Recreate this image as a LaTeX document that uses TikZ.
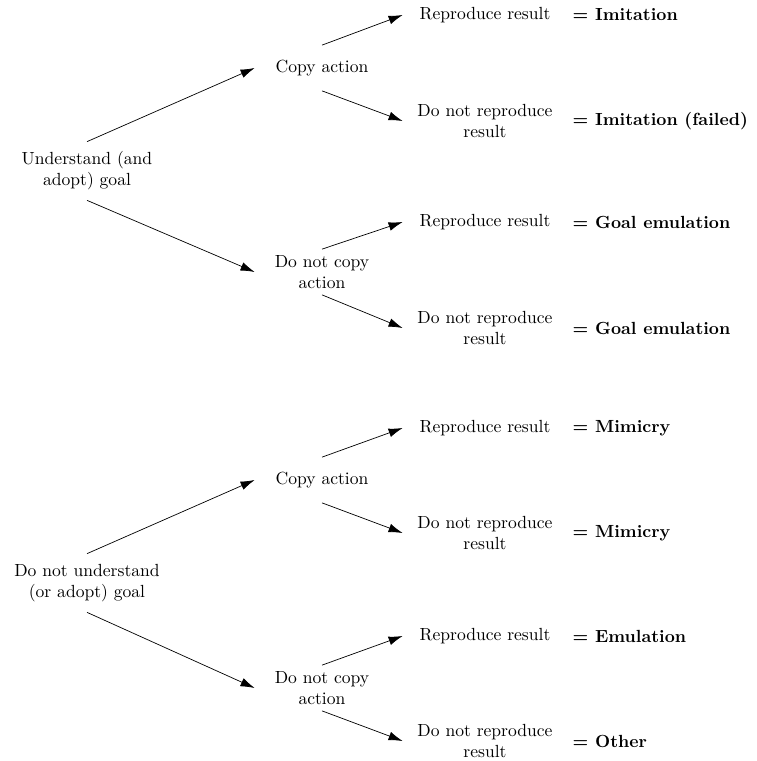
\documentclass[tikz,border=0pt]{standalone}
\usetikzlibrary{positioning,arrows.meta}
\tikzstyle{goalbox}=[inner sep=0pt, text width=3.2cm, align=center, minimum height=1.16cm]
\tikzstyle{actbox}=[inner sep=0pt, text width=2.68cm, align=center, minimum height=0.9cm]
\tikzstyle{resbox}=[inner sep=0pt, text width=3.28cm, align=center]
\tikzstyle{outbox}=[inner sep=0pt, anchor=west, font=\bfseries]
\tikzstyle{branch}=[black, -{Latex[length=8pt,width=5pt]}]

\begin{document}
\begin{tikzpicture}
\useasboundingbox (0,0) rectangle (15.12,-15.22);

% goals
\node [goalbox] (g1) at (1.74,-3.42) {Understand (and\\adopt) goal};
\node [goalbox] (g2) at (1.74,-11.66) {Do not understand\\(or adopt) goal};

% actions
\node [actbox] (c1) at (6.44,-1.36) {Copy action};
\node [actbox] (c2) at (6.44,-5.44) {Do not copy\\action};
\node [actbox] (c3) at (6.44,-9.6) {Copy action};
\node [actbox] (c4) at (6.44,-13.76) {Do not copy\\action};

% results
\node [resbox] (r1) at (9.7,-0.3) {Reproduce result};
\node [resbox] (r2) at (9.7,-2.42) {Do not reproduce\\result};
\node [resbox] (r3) at (9.7,-4.44) {Reproduce result};
\node [resbox] (r4) at (9.7,-6.56) {Do not reproduce\\result};
\node [resbox] (r5) at (9.7,-8.56) {Reproduce result};
\node [resbox] (r6) at (9.7,-10.66) {Do not reproduce\\result};
\node [resbox] (r7) at (9.7,-12.72) {Reproduce result};
\node [resbox] (r8) at (9.7,-14.82) {Do not reproduce\\result};

% outcomes
\node [outbox, right=1mm of r1] (e1) {= Imitation};
\node [outbox, right=1mm of r2] (e2) {= Imitation (failed)};
\node [outbox, right=1mm of r3] (e3) {= Goal emulation};
\node [outbox, right=1mm of r4] (e4) {= Goal emulation};
\node [outbox, right=1mm of r5] (e5) {= Mimicry};
\node [outbox, right=1mm of r6] (e6) {= Mimicry};
\node [outbox, right=1mm of r7] (e7) {= Emulation};
\node [outbox, right=1mm of r8] (e8) {= Other};

\draw [branch] (g1.north) -- (c1.west);
\draw [branch] (g1.south) -- (c2.west);
\draw [branch] (g2.north) -- (c3.west);
\draw [branch] (g2.south) -- (c4.west);

\draw [branch] (c1.north) -- (r1.west);
\draw [branch] (c1.south) -- (r2.west);
\draw [branch] (c2.north) -- (r3.west);
\draw [branch] (c2.south) -- (r4.west);
\draw [branch] (c3.north) -- (r5.west);
\draw [branch] (c3.south) -- (r6.west);
\draw [branch] (c4.north) -- (r7.west);
\draw [branch] (c4.south) -- (r8.west);
\end{tikzpicture}
\end{document}
